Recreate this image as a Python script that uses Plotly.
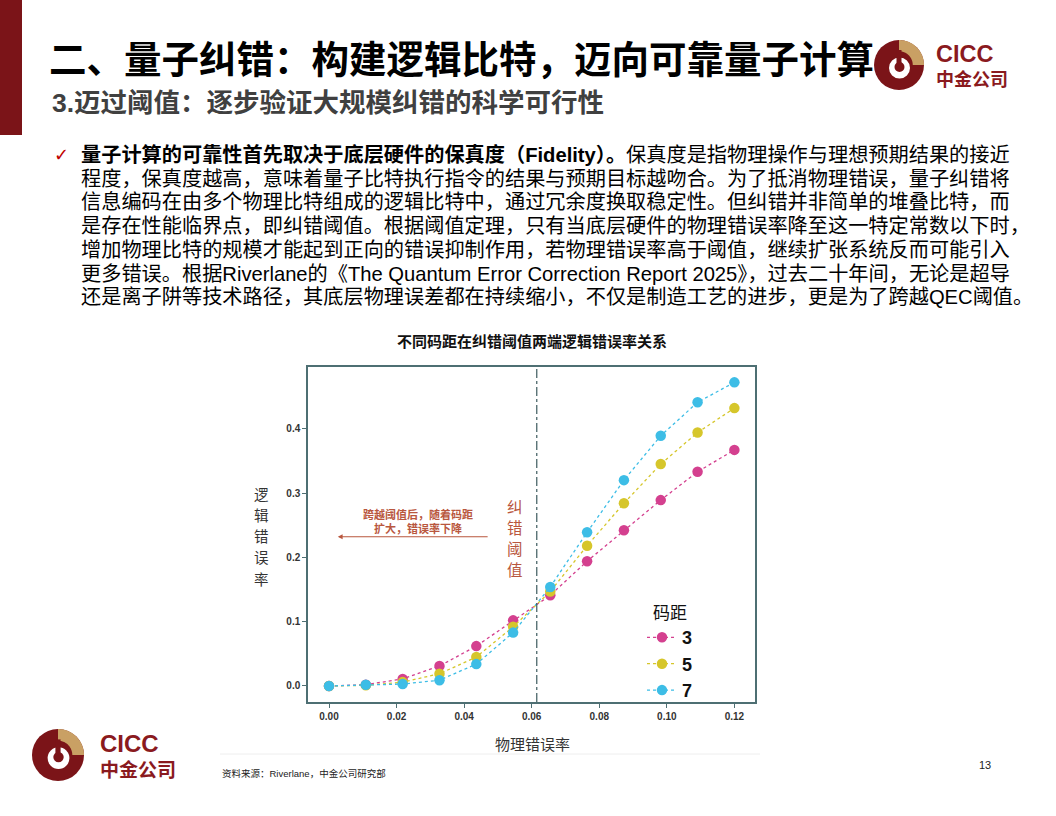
import numpy as np
import plotly.graph_objects as go

# ---------------- data ----------------
phys_err = [0.0000, 0.0109, 0.0218, 0.0327, 0.0436, 0.0545, 0.0655, 0.0764, 0.0873, 0.0982, 0.1091, 0.1200]
logical_d3 = [0.000, 0.002, 0.011, 0.031, 0.062, 0.102, 0.141, 0.194, 0.242, 0.289, 0.333, 0.367]
logical_d5 = [0.000, 0.001, 0.006, 0.019, 0.045, 0.092, 0.147, 0.218, 0.284, 0.345, 0.394, 0.432]
logical_d7 = [0.000, 0.002, 0.003, 0.009, 0.034, 0.083, 0.154, 0.239, 0.320, 0.389, 0.441, 0.472]
series_names = ["3", "5", "7"]
series_colors = ["#d4408f", "#d6c62b", "#3dbde6"]
threshold = 0.0615
x_tick_vals = [0.00, 0.02, 0.04, 0.06, 0.08, 0.10, 0.12]
y_tick_vals = [0.0, 0.1, 0.2, 0.3, 0.4]

title_text = "二、量子纠错：构建逻辑比特，迈向可靠量子计算"
subtitle_text = "3.迈过阈值：逐步验证大规模纠错的科学可行性"
body_lines = [
    "<b>量子计算的可靠性首先取决于底层硬件的保真度（Fidelity）。</b>保真度是指物理操作与理想预期结果的接近",
    "程度，保真度越高，意味着量子比特执行指令的结果与预期目标越吻合。为了抵消物理错误，量子纠错将",
    "信息编码在由多个物理比特组成的逻辑比特中，通过冗余度换取稳定性。但纠错并非简单的堆叠比特，而",
    "是存在性能临界点，即纠错阈值。根据阈值定理，只有当底层硬件的物理错误率降至这一特定常数以下时，",
    "增加物理比特的规模才能起到正向的错误抑制作用，若物理错误率高于阈值，继续扩张系统反而可能引入",
    "更多错误。根据Riverlane的《The Quantum Error Correction Report 2025》，过去二十年间，无论是超导",
    "还是离子阱等技术路径，其底层物理误差都在持续缩小，不仅是制造工艺的进步，更是为了跨越QEC阈值。",
]
chart_title = "不同码距在纠错阈值两端逻辑错误率关系"
x_title = "物理错误率"
y_title = "逻辑错误率"
legend_title = "码距"
threshold_label = "纠错阈值"
arrow_label = "跨越阈值后，随着码距<br>扩大，错误率下降"
source_text = "资料来源：Riverlane，中金公司研究部"
page_no = "13"

# ---------------- layout geometry (pixels) ----------------
W, H = 1056, 816
L, R, T, B = 308, 755, 367, 702


def px(x):
    return (x - L) / (R - L)


def py(y):
    return (B - y) / (B - T)


FONT = "Liberation Sans, Noto Sans CJK SC, sans-serif"
CJK = "Noto Sans CJK SC, sans-serif"
AXIS_COLOR = "#4e6f73"
RED = "#7b1418"
GOLD = "#c9a064"
ANN_RED = "#b9573e"

fig = go.Figure()
for name, ys, col in zip(series_names, [logical_d3, logical_d5, logical_d7], series_colors):
    fig.add_trace(go.Scatter(
        x=phys_err, y=ys, name=name, mode="lines+markers",
        line=dict(color=col, width=1.3, dash="dot"),
        marker=dict(color=col, size=10.5),
    ))

annotations = []
shapes = []

# threshold line
shapes.append(dict(type="line", xref="x", yref="paper", x0=threshold, x1=threshold, y0=0, y1=1,
                   line=dict(color="#3d5a5e", width=1.2, dash="dashdot")))

# vertical threshold label (one character per row)
for k, ch in enumerate(threshold_label):
    annotations.append(dict(xref="paper", yref="paper", x=px(515), y=py(506 + 21 * k), text=ch,
                            showarrow=False, font=dict(family=CJK, size=15.5, color=ANN_RED),
                            xanchor="center", yanchor="middle"))
annotations.append(dict(xref="x", yref="y", x=0.0026, y=0.232, ax=0.0474, ay=0.232, axref="x", ayref="y",
                        text="", showarrow=True, arrowhead=2, arrowsize=0.8, arrowwidth=1.2, arrowcolor=ANN_RED))
annotations.append(dict(xref="x", yref="y", x=0.0262, y=0.256, text=arrow_label, showarrow=False,
                        font=dict(family=CJK, size=11, color=ANN_RED, weight="bold"), align="center"))

# axis titles & chart title
for k, ch in enumerate(y_title):
    annotations.append(dict(xref="paper", yref="paper", x=px(261), y=py(493 + 21.3 * k), text=ch,
                            showarrow=False, font=dict(family=CJK, size=14.5, color="#333333"),
                            xanchor="center", yanchor="middle"))
annotations.append(dict(xref="paper", yref="paper", x=px(532), y=py(743), text=x_title, showarrow=False,
                        font=dict(family=CJK, size=15, color="#333333"), xanchor="center", yanchor="middle"))
annotations.append(dict(xref="paper", yref="paper", x=px(532), y=py(340), text="<b>" + chart_title + "</b>", showarrow=False,
                        font=dict(family=CJK, size=15, color="#111111"), xanchor="center", yanchor="middle"))

# slide header
annotations.append(dict(xref="paper", yref="paper", x=px(47), y=py(56), text="<b>" + title_text + "</b>", showarrow=False,
                        font=dict(family=CJK, size=37.5, color="#000000"), xanchor="left", yanchor="middle"))
annotations.append(dict(xref="paper", yref="paper", x=px(50), y=py(103), text="<b>" + subtitle_text + "</b>", showarrow=False,
                        font=dict(family=FONT, size=26.5, color="#404040"), xanchor="left", yanchor="middle"))
shapes.append(dict(type="rect", xref="paper", yref="paper", x0=px(0), x1=px(22), y0=py(135), y1=py(0),
                   fillcolor=RED, line=dict(width=0)))

# body text
annotations.append(dict(xref="paper", yref="paper", x=px(52), y=py(154), text="✓", showarrow=False,
                        font=dict(family="DejaVu Sans", size=18, color="#c00000"), xanchor="left", yanchor="middle"))
for i, line in enumerate(body_lines):
    annotations.append(dict(xref="paper", yref="paper", x=px(79), y=py(155 + 23.7 * i), text=line, showarrow=False,
                            font=dict(family=FONT, size=20.2, color="#000000"), xanchor="left", yanchor="middle"))

# footer
annotations.append(dict(xref="paper", yref="paper", x=px(220), y=py(773), text=source_text, showarrow=False,
                        font=dict(family=FONT, size=9.5, color="#222222"), xanchor="left", yanchor="middle"))
annotations.append(dict(xref="paper", yref="paper", x=px(993), y=py(765), text=page_no, showarrow=False,
                        font=dict(family=FONT, size=11, color="#222222"), xanchor="right", yanchor="middle"))
shapes.append(dict(type="line", xref="paper", yref="paper", x0=px(220), x1=px(760), y0=py(754), y1=py(754),
                   line=dict(color="#eeeeee", width=1)))


def logo(cx, cy, r, tx, ty1, ty2, s1, s2):
    def circ(x0c, y0c, rr, col):
        shapes.append(dict(type="circle", xref="paper", yref="paper",
                           x0=px(x0c - rr), x1=px(x0c + rr), y0=py(y0c + rr), y1=py(y0c - rr),
                           fillcolor=col, line=dict(width=0)))
    circ(cx, cy, r, RED)
    ang = np.linspace(-np.pi / 2, 0, 30)  # from 12 o'clock to 3 o'clock (screen coords)
    outer = [(cx + r * np.cos(a), cy + r * np.sin(a)) for a in ang]
    inner = [(cx + 0.55 * r * np.cos(a), cy + 0.55 * r * np.sin(a)) for a in ang[::-1]]
    pts = outer + inner
    path = "M " + " L ".join(f"{px(a):.5f},{py(b):.5f}" for a, b in pts) + " Z"
    shapes.append(dict(type="path", xref="paper", yref="paper", path=path, fillcolor=GOLD, line=dict(width=0)))
    circ(cx + 0.02 * r, cy + 0.12 * r, 0.42 * r, "#ffffff")
    shapes.append(dict(type="rect", xref="paper", yref="paper", x0=px(cx - 0.1 * r), x1=px(cx + 0.1 * r),
                       y0=py(cy + 0.05 * r), y1=py(cy - 0.6 * r), fillcolor=RED, line=dict(width=0)))
    circ(cx + 0.02 * r, cy + 0.08 * r, 0.2 * r, RED)
    annotations.append(dict(xref="paper", yref="paper", x=px(tx), y=py(ty1), text="<b>CICC</b>", showarrow=False,
                            font=dict(family="Liberation Sans", size=s1, color="#8a1a1e"), xanchor="left", yanchor="middle"))
    annotations.append(dict(xref="paper", yref="paper", x=px(tx), y=py(ty2), text="<b>中金公司</b>", showarrow=False,
                            font=dict(family=CJK, size=s2, color="#8a1a1e"), xanchor="left", yanchor="middle"))


logo(899, 65, 25, 934, 54, 78, 23.5, 18)
logo(58, 755, 26, 98, 743, 768, 24, 19)

axis_common = dict(showgrid=False, zeroline=False, showline=True, linecolor=AXIS_COLOR, linewidth=1.5,
                   mirror=True, ticks="outside", ticklen=4, tickcolor=AXIS_COLOR,
                   tickfont=dict(family="Liberation Sans", size=10, color="#333333", weight="bold"))

fig.update_layout(
    width=W, height=H,
    margin=dict(l=L, r=W - R, t=T, b=H - B, pad=0),
    paper_bgcolor="white", plot_bgcolor="white",
    xaxis=dict(range=[-0.00622, 0.1261], tickvals=x_tick_vals, tickformat=".2f", **axis_common),
    yaxis=dict(range=[-0.0249, 0.4959], tickvals=y_tick_vals, tickformat=".1f", **axis_common),
    legend=dict(x=px(642), y=py(597), xanchor="left", yanchor="top", bgcolor="rgba(0,0,0,0)",
                font=dict(family="Liberation Sans", size=18, color="#111111", weight="bold"),
                title=dict(text=legend_title, font=dict(family=CJK, size=17, color="#111111", weight="normal"),
                           side="top center"),
                itemwidth=30, tracegroupgap=0),
    showlegend=True,
    annotations=annotations,
    shapes=shapes,
)

fig.write_html("out.html", config={"displayModeBar": False},
               post_script="document.body.style.margin='0';document.body.style.overflow='hidden';")
